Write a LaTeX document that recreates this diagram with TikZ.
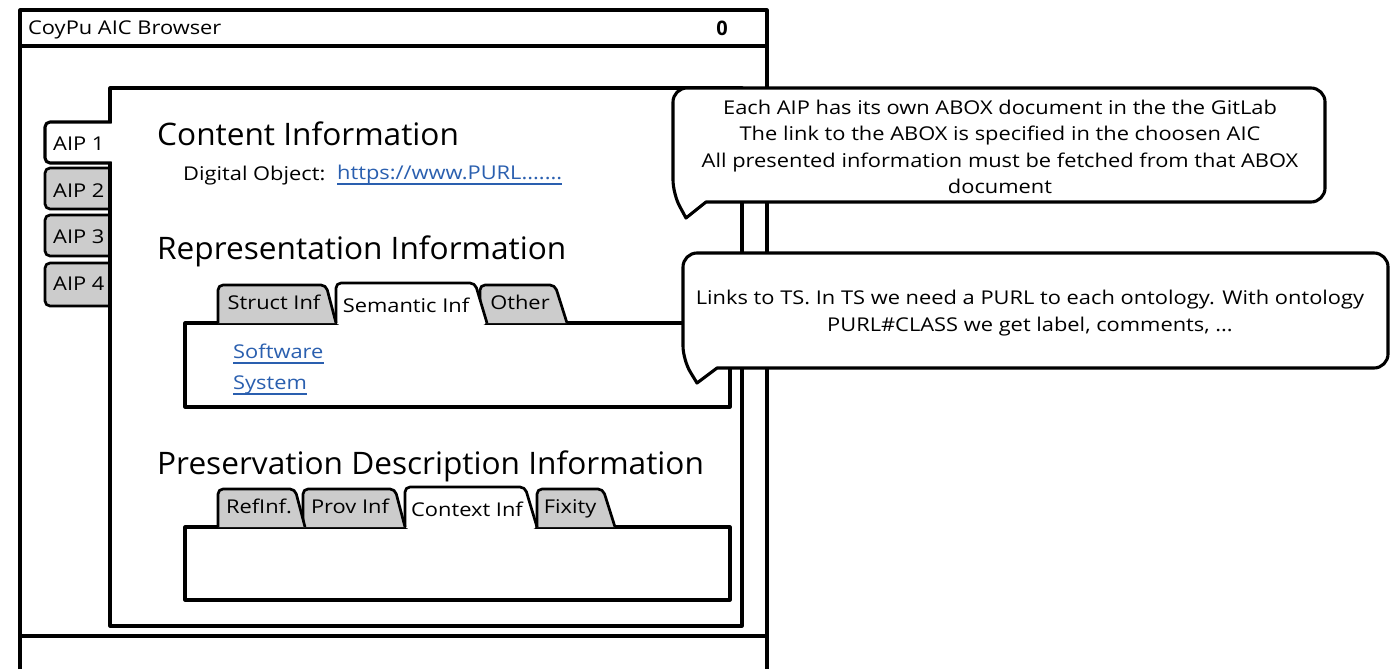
\documentclass[tikz,border=0pt]{standalone}
\usepackage{fontspec}
\setmainfont{Open Sans}
\newfontfamily\widefont[FakeStretch=1.15]{Open Sans}
\newfontfamily\headfont[FakeStretch=1.02]{Open Sans}
\definecolor{tabgrey}{RGB}{204,204,204}
\definecolor{linkblue}{RGB}{42,95,175}
\tikzset{
  frame/.style={draw=black, line width=3.1pt, line join=round},
  thinframe/.style={draw=black, line width=2.7pt, line join=round},
  small/.style={font=\widefont\fontsize{19}{23}\selectfont, inner sep=0pt},
  head/.style={font=\headfont\fontsize{31}{36}\selectfont, inner sep=0pt, anchor=base west},
  lbl/.style={small, anchor=base west},
  tablbl/.style={small, anchor=base},
  link/.style={small, anchor=base west, text=linkblue},
  ulink/.style={draw=linkblue, line width=1.5pt},
  note/.style={inner sep=0pt, align=center, font=\widefont\fontsize{19}{26.5}\selectfont},
  greytab/.style={thinframe, fill=tabgrey, rounded corners=5pt},
  activetab/.style={thinframe, rounded corners=5pt},
  callout/.style={frame, fill=white},
}
\begin{document}
\begin{tikzpicture}[x=1pt,y=-1pt]
\useasboundingbox (0,0) rectangle (1394,669);
% outer window
\draw[frame] (20,669) -- (20,10) -- (767,10) -- (767,669);
\draw[frame] (20,46) -- (767,46);
\draw[frame] (20,636) -- (767,636);
\node[lbl, font=\widefont\fontsize{19}{22}\selectfont] (title) at (28,35) {CoyPu AIC Browser};
\node[small, font=\bfseries\fontsize{20}{22}\selectfont] (winctl) at (722,28) {0};
% AIP side tabs (inactive)
\path[greytab] (112,168) -- (45,168) -- (45,209) -- (112,209);
\path[greytab] (112,215) -- (45,215) -- (45,256) -- (112,256);
\path[greytab] (112,263) -- (45,263) -- (45,306) -- (112,306);
% inner panel
\path[frame, fill=white] (110,88) rectangle (742,626);
% AIP 1 active tab
\fill[white, rounded corners=5pt] (113,122) -- (45,122) -- (45,163) -- (113,163) -- cycle;
\draw[frame, rounded corners=5pt] (111,122) -- (45,122) -- (45,163) -- (111,163);
\node[lbl] (aip1) at (53,150) {AIP 1};
\node[lbl] (aip2) at (53,197) {AIP 2};
\node[lbl] (aip3) at (53,243) {AIP 3};
\node[lbl] (aip4) at (53,290) {AIP 4};
% Content information
\node[head] (ci) at (157,145) {Content Information};
\node[lbl] (dobj) at (183,180) {Digital Object:};
\node[link] (dolink) at (337,179) {https://www.PURL.......};
\draw[ulink] ([yshift=-5pt]dolink.base west) -- ([yshift=-5pt]dolink.base east);
% Representation information
\node[head] (ri) at (157,259) {Representation Information};
\path[frame, fill=white] (185,323) rectangle (730,407);
\path[greytab] (480,323) -- (480,285) -- (555,285) -- (567,323);
\fill[white, rounded corners=5pt] (336,325.5) -- (336,283) -- (475,283) -- (487,325.5) -- cycle;
\draw[activetab] (336,323) -- (336,283) -- (475,283) -- (487,323);
\path[greytab] (218,323) -- (218,285) -- (326,285) -- (336,323);
\node[tablbl] (tstruct) at (274,309) {Struct Inf};
\node[tablbl] (tsem) at (406,312) {Semantic Inf};
\node[tablbl] (tother) at (520,309) {Other};
\node[link] (lsoft) at (233,358) {Software};
\draw[ulink] ([yshift=-5pt]lsoft.base west) -- ([yshift=-5pt]lsoft.base east);
\node[link] (lsys) at (233,389) {System};
\draw[ulink] ([yshift=-5pt]lsys.base west) -- ([yshift=-5pt]lsys.base east);
% Preservation description information
\node[head] (pdi) at (157,474) {Preservation Description Information};
\path[frame, fill=white] (185,527) rectangle (730,600);
\path[greytab] (537,527) -- (537,489) -- (603,489) -- (615,527);
\fill[white, rounded corners=5pt] (405,529.5) -- (405,487) -- (525,487) -- (537,529.5) -- cycle;
\draw[activetab] (405,527) -- (405,487) -- (525,487) -- (537,527);
\path[greytab] (303,527) -- (303,489) -- (395,489) -- (405,527);
\path[greytab] (218,527) -- (218,489) -- (295,489) -- (305,527);
\node[tablbl] (tref) at (259,513) {RefInf.};
\node[tablbl] (tprov) at (350,513) {Prov Inf};
\node[tablbl] (tctx) at (467,516) {Context Inf};
\node[tablbl] (tfix) at (570,513) {Fixity};
% callout 1
\draw[callout] (706,202) [rounded corners=14pt] -- (1325,202) -- (1325,88) -- (673,88) -- (673,194) [sharp corners] -- (686,218) -- cycle;
\node[note] (note1) at (1000,147) {Each AIP has its own ABOX document in the the GitLab\\The link to the ABOX is specified in the choosen AIC\\All presented information must be fetched from that ABOX\\document};
% callout 2
\draw[callout] (717,368) [rounded corners=14pt] -- (1388,368) -- (1388,253) -- (683,253) -- (683,360) [sharp corners] -- (697,383) -- cycle;
\node[note] (note2) at (1030,313) {Links to TS. In TS we need a PURL to each ontology. With ontology\\PURL\#CLASS we get label, comments, ...};
\end{tikzpicture}
\end{document}
